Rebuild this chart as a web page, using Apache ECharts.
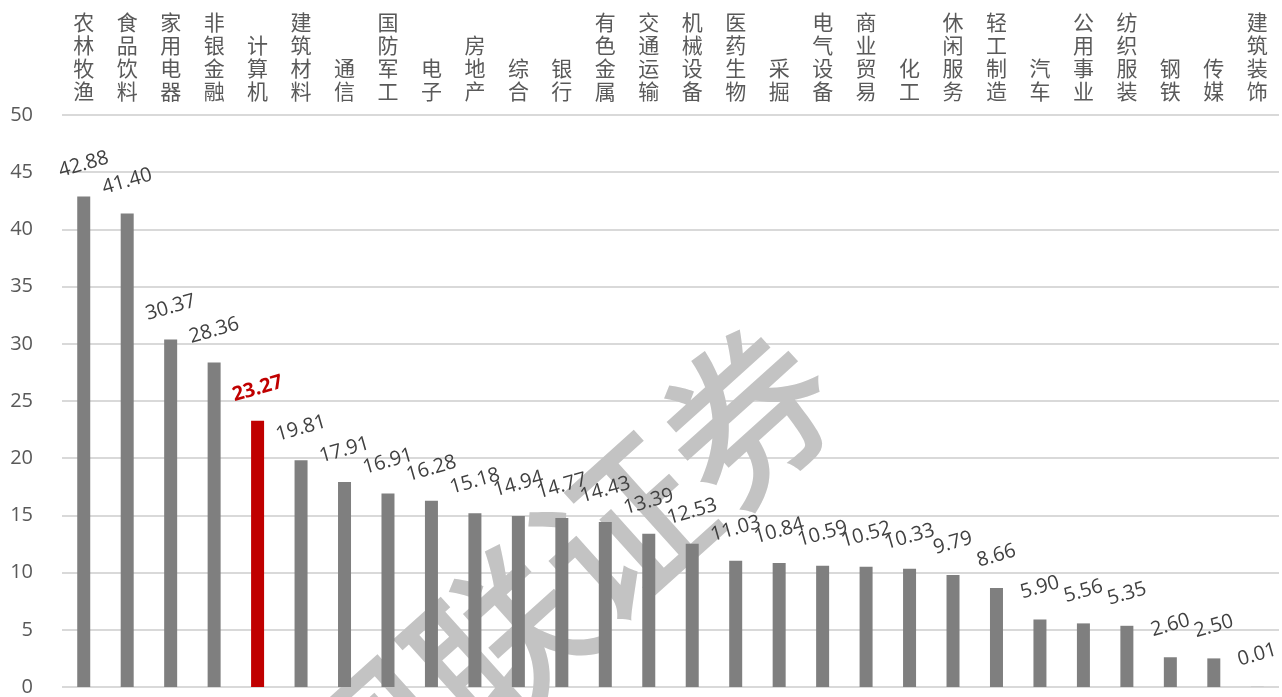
<!DOCTYPE html>
<html>
<head>
<meta charset="utf-8">
<script src="https://cdn.jsdelivr.net/npm/echarts@6/dist/echarts.min.js"></script>
<style>
html,body{margin:0;padding:0;background:#fff;}
#c{width:1282px;height:697px;}
</style>
</head>
<body>
<div id="c"></div>
<script>
const categories = ['农林牧渔','食品饮料','家用电器','非银金融','计算机','建筑材料','通信','国防军工','电子','房地产','综合','银行','有色金属','交通运输','机械设备','医药生物','采掘','电气设备','商业贸易','化工','休闲服务','轻工制造','汽车','公用事业','纺织服装','钢铁','传媒','建筑装饰'];
const values = [42.88,41.40,30.37,28.36,23.27,19.81,17.91,16.91,16.28,15.18,14.94,14.77,14.43,13.39,12.53,11.03,10.84,10.59,10.52,10.33,9.79,8.66,5.90,5.56,5.35,2.60,2.50,0.01];
const highlight = '计算机';
const watermark = '国联证券';

const chart = echarts.init(document.getElementById('c'));
const numFont = '"Open Sans", "Noto Sans", sans-serif';
const cjkFont = '"Noto Sans CJK SC", sans-serif';

const data = values.map((v, i) => {
  const hi = categories[i] === highlight;
  return {
    value: v,
    itemStyle: { color: hi ? '#C00000' : '#7F7F7F' },
    label: hi ? { color: '#C00000', fontWeight: 'bold' } : {}
  };
});

chart.setOption({
  animation: false,
  backgroundColor: '#fff',
  grid: { left: 62, right: 3, top: 115, bottom: 10, containLabel: false },
  graphic: [{
    type: 'text',
    z: 1,
    x: 560, y: 585,
    rotation: 42 * Math.PI / 180,
    style: {
      text: watermark,
      font: '500 168px "Noto Sans CJK SC"',
      fill: '#C3C3C3',
      align: 'center',
      verticalAlign: 'middle'
    }
  }],
  xAxis: {
    type: 'category',
    position: 'top',
    data: categories,
    axisLine: { show: false },
    axisTick: { show: false },
    axisLabel: {
      interval: 0,
      margin: 12,
      fontFamily: cjkFont,
      fontSize: 21,
      lineHeight: 23,
      color: '#595959',
      verticalAlign: 'bottom',
      formatter: s => s.split('').join('\n')
    }
  },
  yAxis: {
    type: 'value',
    min: 0, max: 50, interval: 5,
    axisLine: { show: false },
    axisTick: { show: false },
    splitLine: { lineStyle: { color: '#D9D9D9', width: 2 } },
    axisLabel: { fontFamily: numFont, fontSize: 20, color: '#595959', margin: 29 }
  },
  series: [{
    type: 'bar',
    z: 2,
    data: data,
    barWidth: 13,
    label: {
      show: true,
      position: 'top',
      distance: 32,
      rotate: 16,
      align: 'center',
      verticalAlign: 'middle',
      fontFamily: numFont,
      fontSize: 20,
      color: '#404040',
      formatter: p => p.value.toFixed(2)
    }
  }]
});
</script>
</body>
</html>
